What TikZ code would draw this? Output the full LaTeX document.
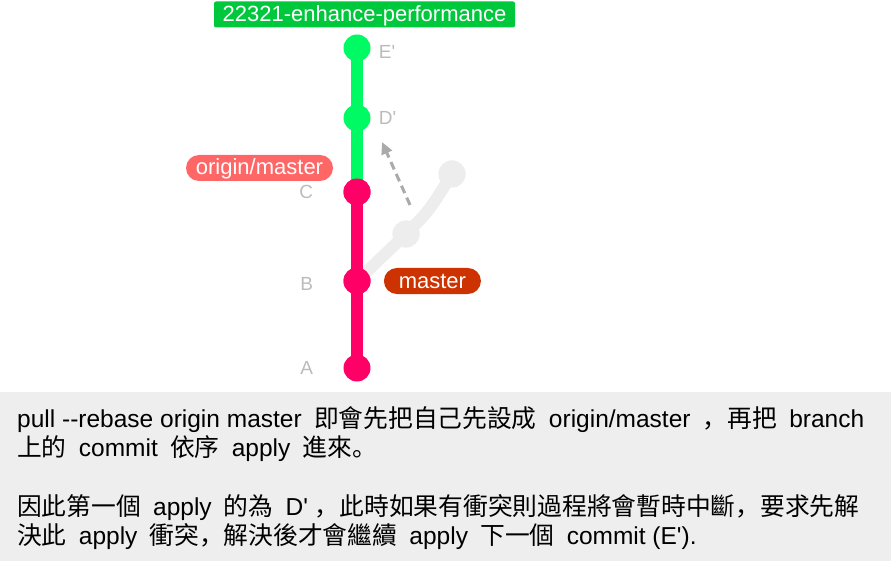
\documentclass[tikz,border=0pt]{standalone}
\usepackage{fontspec}
\setmainfont{Liberation Sans}[Ligatures=TeXOff]
\newfontfamily\cjk{Noto Sans CJK SC}[Scale=1.01]
\usetikzlibrary{positioning,arrows.meta}
\definecolor{mypink}{RGB}{255,0,102}
\definecolor{mygreen}{RGB}{0,250,100}
\definecolor{mydarkgreen}{RGB}{0,200,60}
\definecolor{mysalmon}{RGB}{255,102,102}
\definecolor{myrust}{RGB}{204,51,0}
\definecolor{myghost}{RGB}{237,237,237}
\definecolor{mylabel}{RGB}{187,187,187}
\definecolor{myarrow}{RGB}{170,170,170}
\definecolor{mybox}{RGB}{238,238,238}
\newcommand\gapx{\hspace{0.5em}}

\begin{document}
\begin{tikzpicture}[x=1pt,y=-1pt,
commit/.style={circle,inner sep=0pt,minimum size=27pt},
pinkc/.style={commit,fill=mypink},
greenc/.style={commit,fill=mygreen},
ghostc/.style={commit,fill=myghost},
ident/.style={text=mylabel,font=\fontsize{19}{23}\selectfont,inner sep=0pt},
branchtag/.style={text=white,font=\fontsize{22}{26}\selectfont,inner sep=0pt,
  text height=17pt,text depth=3pt,minimum height=26pt},
note/.style={anchor=base west,inner sep=0pt,font=\fontsize{24.5}{30}\selectfont},
]
\useasboundingbox (0,0) rectangle (891,561);
\fill[mybox] (0,392) rectangle (891,561);
\node[pinkc] (A) at (357,368) {};
\node[pinkc] (B) at (357,281) {};
\node[pinkc] (C) at (357,192) {};
\node[greenc] (D) at (357,118) {};
\node[greenc] (E) at (357,48) {};
\node[ghostc] (G1) at (406,234) {};
\node[ghostc] (G2) at (452,174) {};
\draw[myghost,line width=12pt] (B.center) -- (G1.center) .. controls (429,211) .. (G2.center);
\draw[mygreen,line width=12pt] (C.center) -- (E.center);
\draw[mypink,line width=12pt] (A.center) -- (C.center);
\node[pinkc] at (B) {};
\node[pinkc] at (C) {};
\node[ghostc] at (G1) {};
\node[ghostc] at (G2) {};
\node[ident,left=30pt of A] (Al) {A};
\node[ident,left=30pt of B,yshift=-3pt] (Bl) {B};
\node[ident,left=30pt of C] (Cl) {C};
\node[ident,right=8pt of D] (Dl) {D'};
\node[ident,right=8pt of E,yshift=-4pt] (El) {E'};
\coordinate (dashS) at (410,205);
\coordinate (dashE) at (382,142);
\draw[myarrow,line width=3pt,dash pattern=on 8pt off 5pt,-{Triangle[length=12pt,width=11pt]}] (dashS) -- (dashE);
\node[branchtag,fill=mydarkgreen,rounded corners=2pt,minimum width=301pt] (perf) at (364.5,14.5) {22321-enhance-performance};
\node[branchtag,fill=mysalmon,rounded corners=13pt,minimum width=147pt] (omaster) at (259.5,168) {origin/master};
\node[branchtag,fill=myrust,rounded corners=13pt,minimum width=97pt,right=13pt of B] (master) {master};
\node[note] (lineA) at (17,427) {pull --rebase origin master\gapx{\cjk 即會先把自己先設成}\gapx origin/master\gapx{\cjk ，再把}\gapx branch};
\node[note] (lineB) at (17,456.5) {{\cjk 上的}\gapx commit\gapx{\cjk 依序}\gapx apply\gapx{\cjk 進來。}};
\node[note] (lineC) at (17,515) {{\cjk 因此第一個}\gapx apply\gapx{\cjk 的為}\gapx D' {\cjk ，此時如果有衝突則過程將會暫時中斷，要求先解}};
\node[note] (lineD) at (17,544.5) {{\cjk 決此}\gapx apply\gapx{\cjk 衝突，解決後才會繼續}\gapx apply\gapx{\cjk 下一個}\gapx commit (E').};
\end{tikzpicture}
\end{document}
